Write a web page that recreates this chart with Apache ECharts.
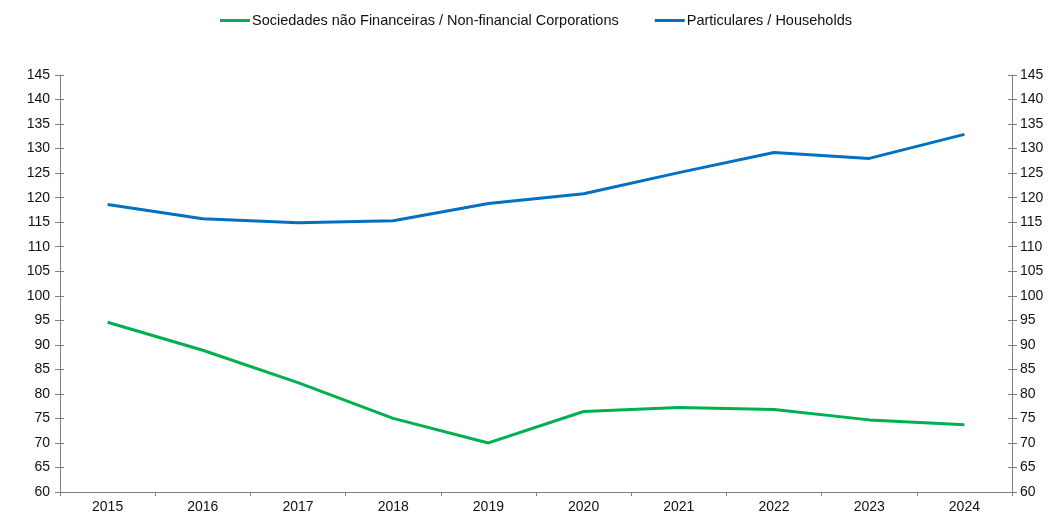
<!DOCTYPE html>
<html>
<head>
<meta charset="utf-8">
<script src="https://cdn.jsdelivr.net/npm/echarts@6/dist/echarts.min.js"></script>
<style>
html,body{margin:0;padding:0;background:#fff;}
#c{width:1053px;height:515px;}
</style>
</head>
<body>
<div id="c"></div>
<script>
const categories = ['2015','2016','2017','2018','2019','2020','2021','2022','2023','2024'];
const seriesNames = ['Sociedades não Financeiras / Non-financial Corporations', 'Particulares / Households'];
const corporations = [94.6, 88.9, 82.3, 75.0, 70.0, 76.4, 77.2, 76.8, 74.7, 73.7];
const households = [118.6, 115.7, 114.9, 115.3, 118.8, 120.8, 125.1, 129.2, 128.0, 132.9];
const yMin = 60, yMax = 145, yStep = 5;

const chart = echarts.init(document.getElementById('c'), null, {renderer: 'canvas'});
const font = 'Liberation Sans, Arial, sans-serif';
const axisGray = '#7f7f7f';
function yAx(pos, margin) {
  return {
    type: 'value', position: pos, min: yMin, max: yMax, interval: yStep,
    axisLine: {show: true, lineStyle: {color: axisGray, width: 1}},
    axisTick: {show: true, length: 5, inside: false, lineStyle: {color: axisGray}},
    splitLine: {show: false},
    axisLabel: {color: '#111', fontFamily: font, fontSize: 14, margin: margin}
  };
}
function yInner(pos) {
  return {
    type: 'value', position: pos, min: yMin, max: yMax, interval: yStep,
    axisLine: {show: false},
    axisTick: {show: true, length: 4, inside: true, lineStyle: {color: axisGray}},
    splitLine: {show: false},
    axisLabel: {show: false}
  };
}
chart.setOption({
  animation: false,
  backgroundColor: '#fff',
  legend: {
    top: 8, left: 215, itemGap: 36, itemWidth: 30, itemHeight: 3,
    icon: 'rect',
    textStyle: {fontFamily: font, fontSize: 14.5, color: '#111', padding: [0,0,0,-3]},
    data: seriesNames
  },
  grid: {left: 60, right: 41, top: 75, bottom: 23, containLabel: false},
  xAxis: {
    type: 'category', data: categories, boundaryGap: true,
    axisLine: {lineStyle: {color: axisGray, width: 1}},
    axisTick: {show: true, length: 4, lineStyle: {color: axisGray}},
    axisLabel: {color: '#111', fontFamily: font, fontSize: 14, margin: 8}
  },
  yAxis: [yAx('left', 10), yAx('right', 8), yInner('left'), yInner('right')],
  series: [
    {name: seriesNames[0], type: 'line', data: corporations, symbol: 'none',
     lineStyle: {color: '#00B050', width: 3}, itemStyle: {color: '#00B050'}},
    {name: seriesNames[1], type: 'line', data: households, symbol: 'none',
     lineStyle: {color: '#0070C0', width: 3}, itemStyle: {color: '#0070C0'}}
  ]
});
</script>
</body>
</html>
